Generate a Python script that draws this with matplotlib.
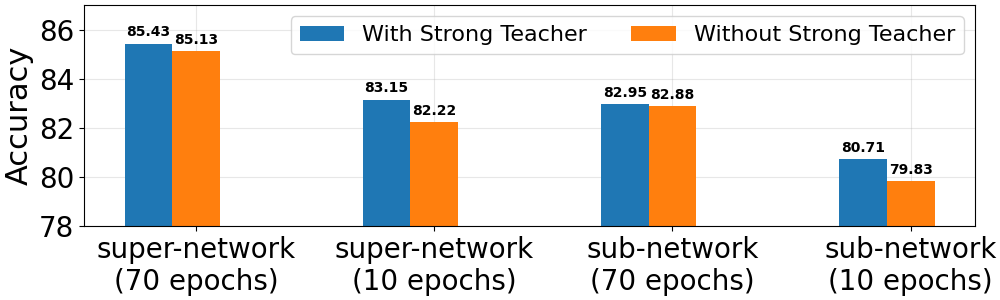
import numpy as np
import matplotlib
matplotlib.use('Agg')
from matplotlib import pyplot as plt

categories = ['super-network\n(70 epochs)', 'super-network\n(10 epochs)',
              'sub-network\n(70 epochs)', 'sub-network\n(10 epochs)']
with_teacher = [85.43, 83.15, 82.95, 80.71]
without_teacher = [85.13, 82.22, 82.88, 79.83]

x = np.arange(len(categories))
width = 0.2

fig, ax = plt.subplots(figsize=(10, 3), dpi=100)
b1 = ax.bar(x - width, with_teacher, width, label='With Strong Teacher', color='#1f77b4')
b2 = ax.bar(x, without_teacher, width, label='Without Strong Teacher', color='#ff7f0e')

for bars in (b1, b2):
    for b in bars:
        h = b.get_height()
        ax.annotate('%.2f' % h, xy=(b.get_x() + b.get_width() / 2, h),
                    xytext=(0, 3), textcoords='offset points',
                    ha='center', va='bottom', fontsize=10, fontweight='bold')

ax.set_ylim(78, 87)
ax.set_yticks([78, 80, 82, 84, 86])
ax.set_xticks(x)
ax.set_xticklabels(categories, fontsize=20)
ax.tick_params(axis='y', labelsize=20)
ax.set_ylabel('Accuracy', fontsize=22)
ax.grid(True, alpha=0.3)
ax.set_axisbelow(True)
ax.legend(loc='upper right', ncol=2, fontsize=16)

plt.subplots_adjust(left=0.084, right=0.975, top=0.983, bottom=0.247)
plt.savefig('out.png', dpi=100)
